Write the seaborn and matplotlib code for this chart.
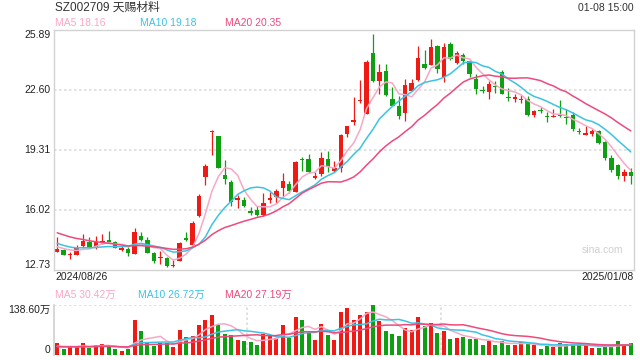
import numpy as np
import pandas as pd
import seaborn as sns
import matplotlib
matplotlib.use('Agg')
import matplotlib.pyplot as plt

# daily candles, 2024/08/26 - 2025/01/08
open_ = [13.73, 13.83, 13.54, 13.57, 14.05, 14.27, 14.01, 14.19, 14.37, 14.27,
         13.85, 13.87, 13.63, 14.61, 14.38, 13.68, 13.39, 13.41, 12.95, 13.24,
         14.49, 14.10, 15.71, 17.85, 20.30, 20.08, 17.94, 17.56, 16.55, 16.57,
         15.97, 16.02, 15.76, 16.59, 16.75, 17.24, 17.45, 17.02, 18.82, 18.82,
         17.77, 18.00, 18.82, 18.16, 18.32, 20.19, 20.86, 21.98, 21.30, 24.63,
         23.11, 23.64, 22.12, 21.74, 21.36, 22.56, 23.15, 24.03, 23.99, 25.01,
         23.30, 25.12, 24.10, 24.50, 24.17, 23.19, 22.62, 22.51, 22.84, 23.57,
         22.22, 22.09, 22.05, 22.09, 21.21, 21.52, 21.19, 21.10, 21.27, 21.14,
         21.23, 20.37, 20.15, 20.20, 20.37, 19.77, 18.89, 18.49, 17.87, 18.12]
high = [14.52, 13.87, 13.72, 14.08, 14.69, 14.54, 14.59, 14.70, 14.87, 14.30,
        14.06, 14.01, 15.05, 14.81, 14.52, 13.70, 13.77, 13.44, 13.28, 14.25,
        14.80, 15.40, 16.91, 18.54, 20.40, 20.10, 18.76, 17.67, 16.86, 16.73,
        16.19, 16.24, 16.94, 17.01, 17.19, 18.03, 17.61, 18.72, 18.94, 19.09,
        18.10, 19.20, 19.26, 18.71, 20.19, 20.63, 22.22, 23.15, 24.23, 25.67,
        24.03, 24.03, 22.78, 22.29, 23.20, 23.22, 25.01, 24.79, 25.40, 25.05,
        25.16, 25.23, 24.76, 24.61, 24.23, 23.46, 22.80, 23.11, 23.08, 23.70,
        22.71, 22.40, 22.34, 22.29, 21.49, 21.68, 21.41, 21.54, 22.05, 21.54,
        21.38, 20.52, 20.63, 20.48, 20.41, 19.80, 19.04, 18.54, 18.25, 18.32]
low = [13.70, 13.55, 13.33, 13.55, 13.92, 13.96, 13.87, 14.17, 14.22, 13.95,
       13.79, 13.51, 13.60, 14.32, 13.66, 13.13, 13.06, 12.91, 12.88, 13.20,
       14.33, 14.05, 15.64, 17.41, 19.04, 18.30, 17.46, 16.24, 16.15, 16.20,
       15.76, 15.71, 15.71, 16.42, 16.42, 16.75, 16.97, 17.00, 18.16, 18.05,
       17.72, 17.88, 18.10, 18.10, 18.10, 20.02, 20.70, 21.87, 21.30, 23.04,
       22.38, 22.27, 21.71, 21.03, 20.92, 22.56, 23.08, 23.77, 23.99, 23.52,
       23.02, 24.23, 24.01, 24.04, 23.33, 22.38, 22.42, 22.11, 22.44, 22.38,
       22.00, 21.92, 21.90, 21.16, 21.10, 21.34, 20.86, 21.10, 21.10, 20.72,
       20.35, 20.19, 20.12, 20.09, 19.64, 18.76, 18.12, 17.70, 17.63, 17.46]
close = [13.88, 13.57, 13.61, 13.92, 14.34, 13.98, 14.27, 14.32, 14.25, 13.96,
         13.90, 13.68, 14.81, 14.38, 13.68, 13.24, 13.46, 12.97, 13.02, 14.21,
         14.35, 15.31, 16.80, 18.43, 20.37, 18.34, 17.74, 16.48, 16.70, 16.26,
         15.87, 15.76, 16.39, 16.70, 17.06, 17.61, 17.06, 18.65, 18.76, 18.10,
         17.88, 18.87, 18.38, 18.32, 20.15, 20.63, 20.97, 22.04, 24.15, 23.09,
         23.60, 22.33, 21.74, 21.19, 22.87, 23.00, 24.36, 23.79, 24.96, 23.77,
         24.96, 24.28, 24.61, 24.21, 23.46, 22.64, 22.55, 22.93, 22.78, 22.40,
         22.16, 22.20, 22.11, 21.25, 21.43, 21.45, 21.10, 21.19, 21.16, 21.08,
         20.46, 20.28, 20.23, 20.37, 19.71, 18.89, 18.23, 17.87, 18.12, 17.87]
# volume, 万
volume = [33.3, 16.6, 23.1, 21.3, 33.3, 18.5, 27.7, 30.5, 23.1, 16.6,
          11.1, 16.6, 97.0, 66.5, 37.0, 24.9, 33.3, 33.3, 23.1, 69.3,
          49.9, 52.7, 83.2, 97.0, 110.9, 83.2, 58.2, 55.4, 41.6, 38.8,
          36.0, 27.7, 58.2, 55.4, 47.1, 83.2, 47.1, 105.3, 97.0, 63.8,
          41.6, 85.9, 55.4, 41.6, 119.2, 130.3, 97.0, 110.9, 119.2, 138.6,
          94.2, 66.5, 58.2, 52.7, 74.8, 69.3, 105.3, 80.4, 88.7, 61.0,
          67.5, 44.4, 47.1, 49.9, 44.4, 44.4, 27.7, 38.8, 27.7, 38.8,
          27.7, 27.7, 36.0, 30.5, 27.7, 16.6, 24.9, 22.2, 33.3, 30.5,
          30.5, 27.7, 27.7, 19.4, 19.4, 26.0, 24.9, 37.5, 27.7, 32.0]

# sessions before 08/26, only used so the moving averages start at the left edge
prev_close = [15.9, 15.8, 15.6, 15.5, 15.4, 15.3, 15.2, 15.1, 14.9, 14.8,
              14.7, 14.5, 14.4, 14.2, 14.05, 14.1, 14.0, 14.05, 14.02]
prev_volume = [24, 20, 22, 26, 19, 23, 25, 21, 22, 24,
               20, 23, 22, 25, 21, 20, 24, 22, 23]

price_ticks = [12.73, 16.02, 19.31, 22.60, 25.89]
vol_top = 138.6
title = 'SZ002709 天赐材料'
timestamp = '01-08 15:00'
first_date, last_date = '2024/08/26', '2025/01/08'
ma_price_text = ['MA5 18.16', 'MA10 19.18', 'MA20 20.35']
ma_vol_text = ['MA5 30.42万', 'MA10 26.72万', 'MA20 27.19万']

RED, GREEN = '#f01a14', '#0e9f12'
MA_COLORS = ['#f8a8c6', '#3cc3e3', '#ee4a7c']
GRID = '#dcdcdc'
BORDER = '#d2d2d2'

sns.set_theme(style='white')
plt.rcParams['font.family'] = ['Liberation Sans', 'Noto Sans CJK SC']

df = pd.DataFrame({'open': open_, 'high': high, 'low': low, 'close': close, 'volume': volume})
df['x'] = np.arange(len(df))
colors = np.where(df['close'] >= df['open'], RED, GREEN)

all_close = pd.Series(prev_close + close)
all_vol = pd.Series(prev_volume + volume)
n_prev = len(prev_close)
for n in (5, 10, 20):
    df[f'ma{n}'] = all_close.rolling(n).mean().iloc[n_prev:].to_numpy()
    df[f'vma{n}'] = all_vol.rolling(n).mean().iloc[n_prev:].to_numpy()

W, H = 640, 360
fig = plt.figure(figsize=(6.4, 3.6), dpi=100)
ax = fig.add_axes([54 / W, 90 / H, 580 / W, 240 / H])
axv = fig.add_axes([54 / W, 5 / H, 580 / W, 50 / H])

# ---- price panel
for v in price_ticks[1:-1]:
    ax.axhline(v, color=GRID, lw=1.2, ls=(0, (1.5, 1.5)), zorder=0)
body_low = df[['open', 'close']].min(axis=1)
body_h = (df['open'] - df['close']).abs().clip(lower=0.06)
ax.vlines(df['x'], df['low'], df['high'], colors=colors, lw=0.9, zorder=2)
ax.bar(df['x'], body_h, bottom=body_low, width=0.68, color=colors, lw=0, zorder=2)
for n, c in zip((5, 10, 20), MA_COLORS):
    sns.lineplot(data=df, x='x', y=f'ma{n}', ax=ax, color=c, lw=1.1, zorder=3)

ax.set_xlim(-0.5, len(df) - 0.5)
ax.set_ylim(price_ticks[0], price_ticks[-1])
ax.set_xticks([])
ax.set_yticks([])
ax.set_xlabel('')
ax.set_ylabel('')
for s in ax.spines.values():
    s.set_color(BORDER)
    s.set_linewidth(1)
tr = ax.get_yaxis_transform()
for i, v in enumerate(price_ticks):
    va = 'bottom' if i == 0 else ('top' if i == len(price_ticks) - 1 else 'center')
    ax.text(-0.006, v, f'{v:.2f}', transform=tr, ha='right', va=va,
            fontsize=7.5, color='#222')
ax.text(0.982, 0.085, 'sina.com', transform=ax.transAxes, ha='right', va='center',
        fontsize=7.5, color='#cfcfcf')

# ---- volume panel
axv.axhline(vol_top, color=GRID, lw=1.2, ls=(0, (1.5, 1.5)), zorder=0)
axv.axhline(0, color=GRID, lw=1.2, ls=(0, (1.5, 1.5)), zorder=0)
for xv in (len(df) / 3 - 0.5, 2 * len(df) / 3 - 0.5):
    axv.axvline(xv, color=GRID, lw=1.2, ls=(0, (1.5, 1.5)), zorder=0)
axv.bar(df['x'], df['volume'], width=0.62, color=colors, lw=0, zorder=2)
for n, c in zip((5, 10, 20), MA_COLORS):
    sns.lineplot(data=df, x='x', y=f'vma{n}', ax=axv, color=c, lw=1.1, zorder=3)
axv.set_xlim(-0.5, len(df) - 0.5)
axv.set_ylim(0, vol_top)
axv.set_xticks([])
axv.set_yticks([])
axv.set_xlabel('')
axv.set_ylabel('')
for k, s in axv.spines.items():
    s.set_visible(k == 'left')
    s.set_color(BORDER)
trv = axv.get_yaxis_transform()
axv.text(-0.006, vol_top, f'{vol_top:.2f}万', transform=trv, ha='right', va='top',
         fontsize=7.5, color='#222')
axv.text(-0.006, 0, '0', transform=trv, ha='right', va='bottom', fontsize=7.5, color='#222')

# ---- header / labels
fig.text(55 / W, 1 - 8 / H, title, ha='left', va='center', fontsize=8.5, color='#333')
fig.text(634 / W, 1 - 8 / H, timestamp, ha='right', va='center', fontsize=7.5, color='#333')
for txt, c, xp in zip(ma_price_text, MA_COLORS, (55, 140, 225)):
    fig.text(xp / W, 1 - 23.5 / H, txt, ha='left', va='center', fontsize=7.5, color=c)
for txt, c, xp in zip(ma_vol_text, MA_COLORS, (55, 138, 225)):
    fig.text(xp / W, 1 - 294.5 / H, txt, ha='left', va='center', fontsize=7.5, color=c)
fig.text(55 / W, 1 - 277.5 / H, first_date, ha='left', va='center', fontsize=7.5, color='#222')
fig.text(634 / W, 1 - 277.5 / H, last_date, ha='right', va='center', fontsize=7.5, color='#222')

fig.savefig('out.png', dpi=100, facecolor='white')
